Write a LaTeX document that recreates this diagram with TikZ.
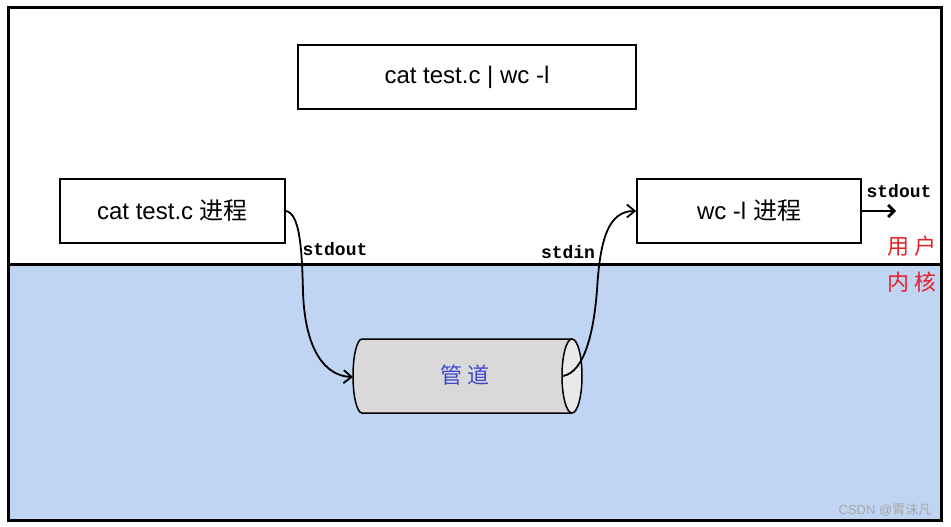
\documentclass[tikz,border=0pt]{standalone}
\usepackage{fontspec}
\setmainfont{Liberation Sans}
\newfontfamily\cjk{Noto Sans CJK SC}
\newfontfamily\mono{Liberation Mono}
\usetikzlibrary{arrows.meta}
\definecolor{kbg}{HTML}{C0D5F3}
\definecolor{pipeblue}{HTML}{3F48CC}
\definecolor{lblred}{HTML}{E8202A}
\definecolor{pipebody}{HTML}{D9D9D9}
\definecolor{pipeend}{HTML}{E9E9E9}
\tikzset{
  procbox/.style={draw=black, line width=1.5pt, fill=white, minimum height=64pt, inner sep=0pt, font=\fontsize{24}{28}\selectfont},
  monolbl/.style={font=\mono\bfseries\fontsize{18}{21}\selectfont, inner sep=0pt},
  flow/.style={line width=1.8pt, -{Straight Barb[length=8pt,width=13pt,line width=1.8pt]}},
  zhred/.style={text=lblred, font=\cjk\fontsize{22}{25}\selectfont, inner sep=0pt},
}
\begin{document}
\begin{tikzpicture}[x=1pt,y=-1pt]
\useasboundingbox (0,0) rectangle (951,527);
\fill[white] (0,0) rectangle (951,527);
% kernel region
\fill[kbg] (8,264) rectangle (941,520);
\draw[line width=3pt] (8,8) rectangle (941,520);
\draw[line width=3pt] (8,264) -- (941,264);
% boxes
\node[procbox, minimum width=338pt] (cmd) at (467,77) {cat test.c | wc -l};
\node[procbox, minimum width=225pt] (cat) at (172.5,211) {cat test.c {\cjk 进程}};
\node[procbox, minimum width=224pt] (wc) at (749,211) {wc -l {\cjk 进程}};
% pipe cylinder
\fill[pipebody] (572,339) -- (362,339) .. controls (357,339) and (353,355.6) .. (353,376) .. controls (353,396.4) and (357,413) .. (362,413) -- (572,413) -- cycle;
\draw[line width=1.5pt] (572,339) -- (362,339) .. controls (357,339) and (353,355.6) .. (353,376) .. controls (353,396.4) and (357,413) .. (362,413) -- (572,413);
\draw[line width=1.5pt, fill=pipeend] (572,376) ellipse[x radius=10pt, y radius=37pt];
\coordinate (pipeL) at (353,377);
\coordinate (pipeR) at (563,376);
\node[text=pipeblue, font=\cjk\fontsize{22}{26}\selectfont, inner sep=0pt] (pipe) at (465,375) {管\hspace{5pt}道};
% connectors
\draw[flow] (cat.east) .. controls (300,213) and (302,250) .. (303,292) .. controls (305,350) and (325,376) .. (pipeL);
\draw[flow] (pipeR) .. controls (585,372) and (594,330) .. (597,290) .. controls (600,240) and (608,211) .. (wc.west);
\coordinate (outend) at (896,211);
\draw[line width=2.8pt, -{Straight Barb[length=6pt,width=12pt,line width=2.8pt]}] (wc.east) -- (outend);
% labels
\node[monolbl] (lso) at (335,249) {stdout};
\node[monolbl] (lsi) at (568,252) {stdin};
\node[monolbl] (lso2) at (899,191) {stdout};
\node[zhred] (user) at (912,246) {用\hspace{6pt}户};
\node[zhred] (kern) at (912,282) {内\hspace{6pt}核};
\node[text=gray!70, font=\fontsize{13}{15}\selectfont, inner sep=0pt] (wm) at (885,510) {CSDN @{\cjk 霄沫凡}};
\end{tikzpicture}
\end{document}
